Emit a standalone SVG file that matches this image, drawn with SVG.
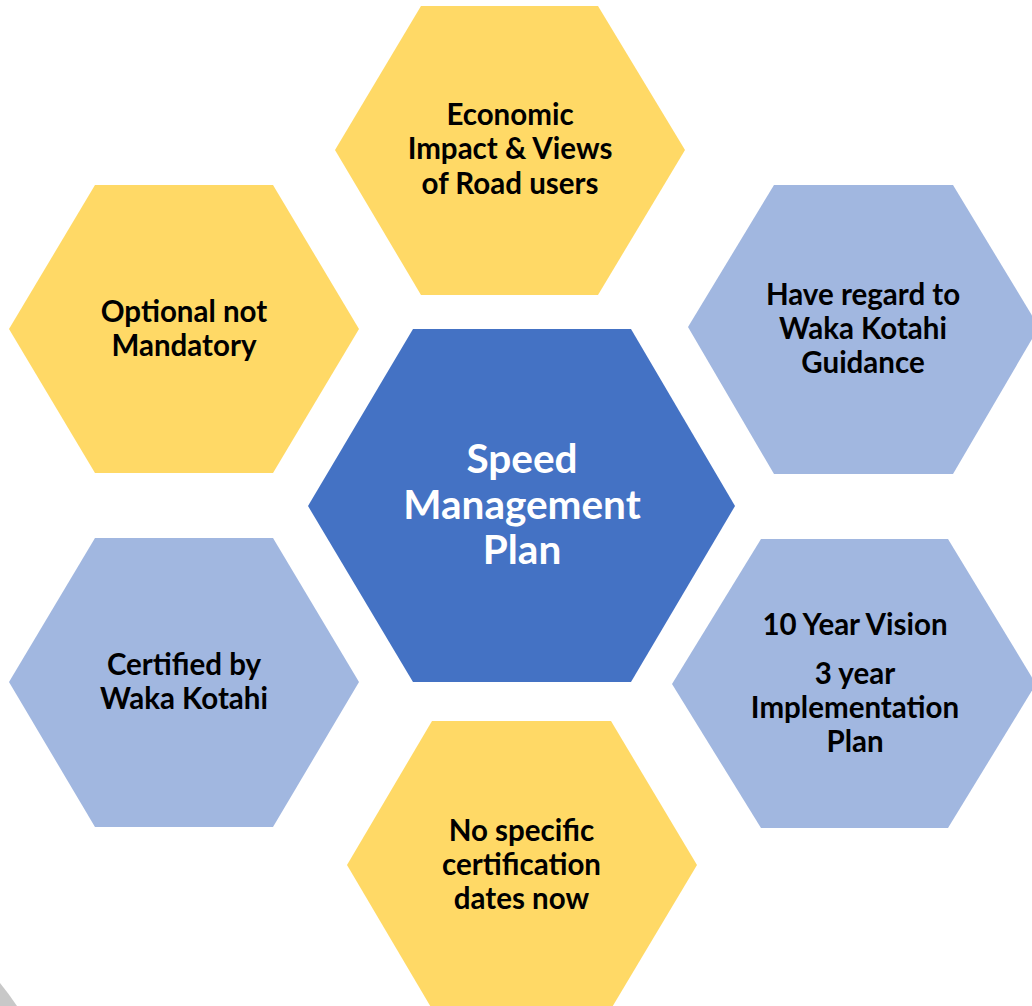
<svg xmlns="http://www.w3.org/2000/svg" width="1032" height="1006" viewBox="0 0 1032 1006">
  <style>
    .gold { fill: #FFD966; }
    .pale { fill: #A1B7E0; }
    .core { fill: #4472C4; }
    .lbl { font-family: Lato, "Liberation Sans", sans-serif; font-weight: 700; font-size: 29.5px; fill: #000000; text-anchor: middle; }
    .big { font-family: Lato, "Liberation Sans", sans-serif; font-weight: 700; font-size: 40.5px; fill: #FFFFFF; text-anchor: middle; }
  </style>
  <rect width="1032" height="1006" fill="#FFFFFF"/>

  <!-- corner fragment of a grey shape -->
  <path d="M0,983 Q9,994 17,1006 L0,1006 Z" fill="#C8C8C8"/>

  <g id="connectors"/>

  <g id="node-economic">
    <polygon class="gold" points="421,6 598,6 685,150 598,295 421,295 335,150"/>
    <text class="lbl" x="510" y="125">Economic</text>
    <text class="lbl" x="510" y="159">Impact &amp; Views</text>
    <text class="lbl" x="510" y="194">of Road users</text>
  </g>

  <g id="node-optional">
    <polygon class="gold" points="95,185 273,185 359,329 273,473 95,473 9,329"/>
    <text class="lbl" x="184" y="322">Optional not</text>
    <text class="lbl" x="184" y="356">Mandatory</text>
  </g>

  <g id="node-guidance">
    <polygon class="pale" points="774,185 953,185 1039,327 953,474 774,474 688,327"/>
    <text class="lbl" x="863" y="305">Have regard to</text>
    <text class="lbl" x="863" y="339">Waka Kotahi</text>
    <text class="lbl" x="863" y="373">Guidance</text>
  </g>

  <g id="node-plan">
    <polygon class="core" points="413,329 631,329 735,506 631,682 413,682 308,506"/>
    <text class="big" x="522" y="473">Speed</text>
    <text class="big" x="522" y="519">Management</text>
    <text class="big" x="522" y="564">Plan</text>
  </g>

  <g id="node-certified">
    <polygon class="pale" points="95,538 273,538 359,682 273,827 95,827 9,682"/>
    <text class="lbl" x="184" y="675">Certified by</text>
    <text class="lbl" x="184" y="709">Waka Kotahi</text>
  </g>

  <g id="node-vision">
    <polygon class="pale" points="761,539 948,539 1036,684 948,828 761,828 672,684"/>
    <text class="lbl" x="855" y="635">10 Year Vision</text>
    <text class="lbl" x="855" y="684">3 year</text>
    <text class="lbl" x="855" y="718">Implementation</text>
    <text class="lbl" x="855" y="752">Plan</text>
  </g>

  <g id="node-dates">
    <polygon class="gold" points="432,721 611,721 697,865 611,1009 432,1009 347,865"/>
    <text class="lbl" x="521.5" y="841">No specific</text>
    <text class="lbl" x="521.5" y="875">certification</text>
    <text class="lbl" x="521.5" y="909">dates now</text>
  </g>
</svg>
